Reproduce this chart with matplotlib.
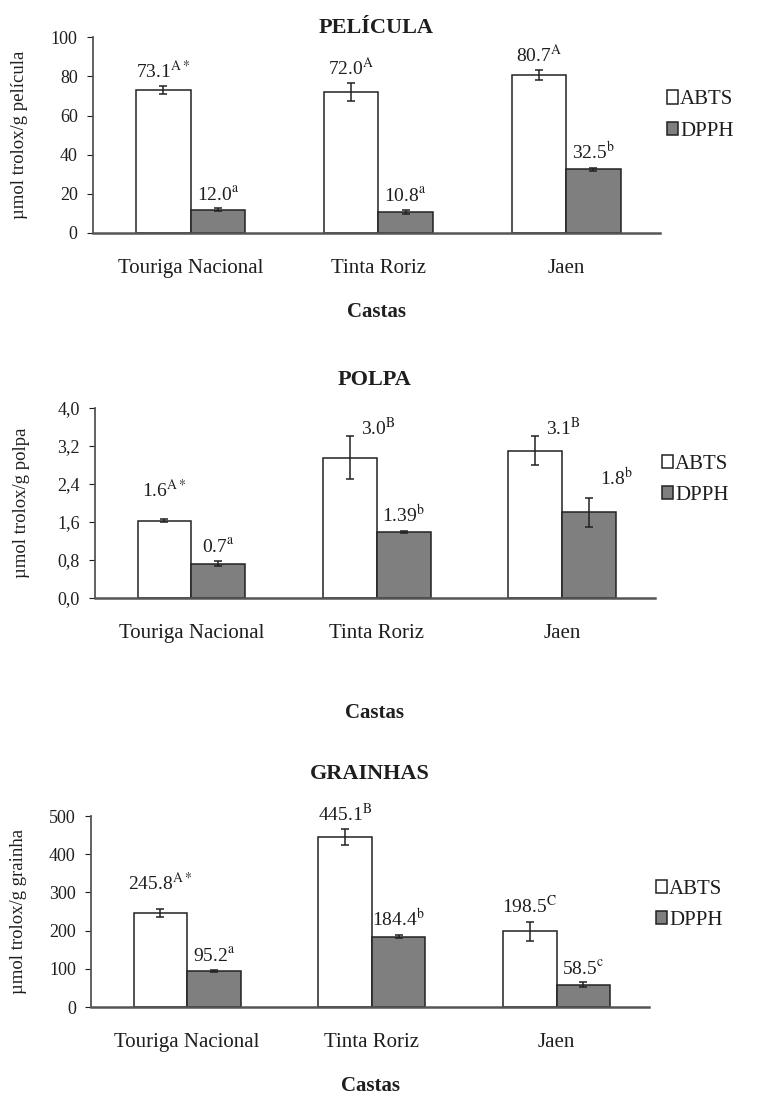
import numpy as np
import matplotlib
matplotlib.use("Agg")
import matplotlib.pyplot as plt
from matplotlib.ticker import FuncFormatter

plt.rcParams['font.family'] = ['Liberation Serif', 'DejaVu Serif']
plt.rcParams['mathtext.fontset'] = 'stix'

castas = ["Touriga Nacional", "Tinta Roriz", "Jaen"]

# PELÍCULA
pel_abts = [73.1, 72.0, 80.7]
pel_abts_err = [2.0, 4.5, 2.5]
pel_dpph = [12.0, 10.8, 32.5]
pel_dpph_err = [0.6, 1.0, 0.8]
pel_abts_lbl = [r"73.1$^{\mathrm{A*}}$", r"72.0$^{\mathrm{A}}$", r"80.7$^{\mathrm{A}}$"]
pel_dpph_lbl = [r"12.0$^{\mathrm{a}}$", r"10.8$^{\mathrm{a}}$", r"32.5$^{\mathrm{b}}$"]

# POLPA
pol_abts = [1.62, 2.95, 3.1]
pol_abts_err = [0.03, 0.45, 0.3]
pol_dpph = [0.72, 1.39, 1.8]
pol_dpph_err = [0.06, 0.02, 0.3]
pol_abts_lbl = [r"1.6$^{\mathrm{A*}}$", r"3.0$^{\mathrm{B}}$", r"3.1$^{\mathrm{B}}$"]
pol_dpph_lbl = [r"0.7$^{\mathrm{a}}$", r"1.39$^{\mathrm{b}}$", r"1.8$^{\mathrm{b}}$"]

# GRAINHAS
gra_abts = [245.8, 445.1, 198.5]
gra_abts_err = [10, 20, 25]
gra_dpph = [95.2, 184.4, 58.5]
gra_dpph_err = [3, 5, 6]
gra_abts_lbl = [r"245.8$^{\mathrm{A*}}$", r"445.1$^{\mathrm{B}}$", r"198.5$^{\mathrm{C}}$"]
gra_dpph_lbl = [r"95.2$^{\mathrm{a}}$", r"184.4$^{\mathrm{b}}$", r"58.5$^{\mathrm{c}}$"]

fig = plt.figure(figsize=(7.59, 10.99), dpi=100)

panels = [
    dict(rect=[0.1225, 0.788, 0.747, 0.178], title="PELÍCULA", ylabel="µmol trolox/g película",
         abts=pel_abts, ae=pel_abts_err, dpph=pel_dpph, de=pel_dpph_err,
         al=pel_abts_lbl, dl=pel_dpph_lbl, ymax=100, step=20, comma=False,
         side_a=[0, 0, 0], side_d=[0, 0, 0], up_a=[3, 3, 3], up_d=[3, 3, 3],
         title_off=7, castas_off=57, leg_y=0.60),
    dict(rect=[0.125, 0.456, 0.738, 0.173], title="POLPA", ylabel="µmol trolox/g polpa",
         abts=pol_abts, ae=pol_abts_err, dpph=pol_dpph, de=pol_dpph_err,
         al=pol_abts_lbl, dl=pol_dpph_lbl, ymax=4.0, step=0.8, comma=True,
         side_a=[0, 1, 1], side_d=[0, 0, 1], up_a=[13, -2, -2], up_d=[3, 3, 6],
         title_off=20, castas_off=83, leg_y=0.62),
    dict(rect=[0.12, 0.0837, 0.735, 0.1738], title="GRAINHAS", ylabel="µmol trolox/g grainha",
         abts=gra_abts, ae=gra_abts_err, dpph=gra_dpph, de=gra_dpph_err,
         al=gra_abts_lbl, dl=gra_dpph_lbl, ymax=500, step=100, comma=False,
         side_a=[0, 0, 0], side_d=[0, 0, 0], up_a=[11, 3, 3], up_d=[3, 3, 3],
         title_off=30, castas_off=57, leg_y=0.535),
]

w = 0.29
x = np.arange(len(castas))
txt = '#1e1e1e'

for p in panels:
    ax = fig.add_axes(p['rect'])
    ax.bar(x - w / 2, p['abts'], w, color='white', edgecolor='#222222', linewidth=1.1,
           yerr=p['ae'], capsize=3, error_kw=dict(elinewidth=1.1, ecolor='#222222', capthick=1.1),
           label='ABTS')
    ax.bar(x + w / 2, p['dpph'], w, color='#7f7f7f', edgecolor='#222222', linewidth=1.1,
           yerr=p['de'], capsize=3, error_kw=dict(elinewidth=1.1, ecolor='#222222', capthick=1.1),
           label='DPPH')
    ax.set_xlim(-0.52, 2.5)
    ax.set_ylim(0, p['ymax'])
    ax.set_yticks(np.arange(0, p['ymax'] + p['step'] / 2, p['step']))
    if p['comma']:
        ax.yaxis.set_major_formatter(FuncFormatter(lambda v, pos: f"{v:.1f}".replace('.', ',')))
    ax.set_xticks(x)
    ax.set_xticklabels(castas, fontsize=15, color=txt)
    ax.tick_params(axis='x', length=0, pad=19)
    ax.tick_params(axis='y', labelsize=13, colors=txt, length=4, direction='out', pad=7)
    for s in ['top', 'right']:
        ax.spines[s].set_visible(False)
    ax.spines['left'].set_color('#555555')
    ax.spines['left'].set_linewidth(1.3)
    ax.spines['bottom'].set_color('#555555')
    ax.spines['bottom'].set_linewidth(1.8)

    ax.annotate(p['title'], (0.5, 1.0), xycoords='axes fraction', xytext=(0, p['title_off']),
                textcoords='offset points', ha='center', va='center',
                fontsize=16, fontweight='bold', color=txt)
    ax.annotate("Castas", (0.5, 0.0), xycoords='axes fraction', xytext=(0, -p['castas_off']),
                textcoords='offset points', ha='center', va='center',
                fontsize=15, fontweight='bold', color=txt)
    ax.set_ylabel(p['ylabel'], fontsize=13.5, color=txt)
    ax.yaxis.set_label_coords(-0.115, 0.5)

    for i in range(len(castas)):
        for vals, errs, lbls, side, up, off in [
                (p['abts'], p['ae'], p['al'], p['side_a'], p['up_a'], -w / 2),
                (p['dpph'], p['de'], p['dl'], p['side_d'], p['up_d'], w / 2)]:
            top = vals[i] + errs[i]
            if side[i]:
                ax.annotate(lbls[i], (x[i] + off, top), xytext=(8, up[i]), textcoords='offset points',
                            ha='left', va='bottom', fontsize=14, color=txt)
            else:
                ax.annotate(lbls[i], (x[i] + off, top), xytext=(0, up[i]), textcoords='offset points',
                            ha='center', va='bottom', fontsize=14, color=txt)

    ax.legend(loc='center left', bbox_to_anchor=(1.012, p['leg_y']), frameon=False, fontsize=15,
              handlelength=0.55, handleheight=0.6, handletextpad=0.1, labelspacing=0.6,
              borderaxespad=0, borderpad=0, labelcolor=txt)

fig.savefig("out.png", dpi=100)
